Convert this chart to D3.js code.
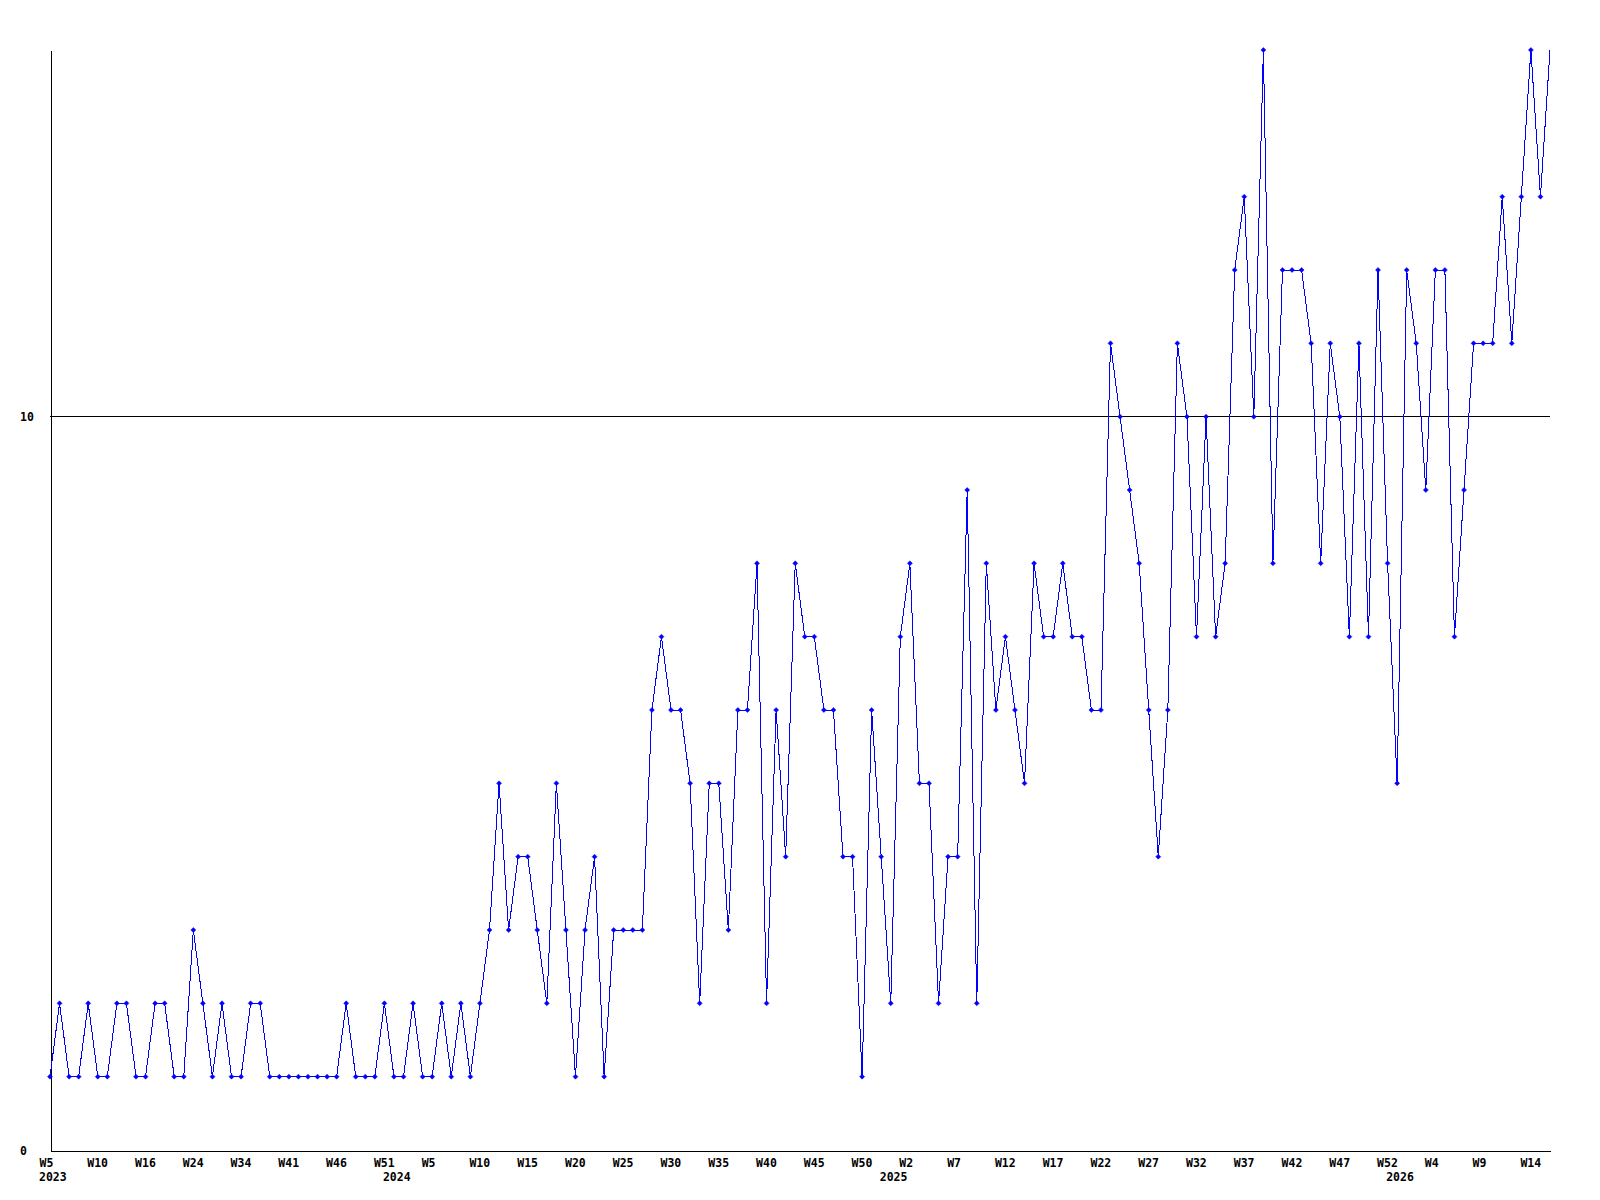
<!DOCTYPE html>
<html>
<head>
<meta charset="utf-8">
<script src="https://cdn.jsdelivr.net/npm/d3@7"></script>
<style>
  body { margin: 0; background: #fff; }
  svg { display: block; }
  text { font-family: "DejaVu Sans Mono", "Liberation Mono", monospace; font-weight: bold; font-size: 11.5px; fill: #000; }
</style>
</head>
<body>
<svg id="chart" width="1600" height="1200"></svg>
<script>
// ---- Categories (week numbers per year, as they appear in the data) ----
const weeks2023 = [5,6,7,8,9,10,11,12,13,14,16,18,19,21,22,24,26,28,30,32,34,35,37,38,40,41,42,43,44,45,46,47,48,49,50,51];
const weeks2024 = [1,2,3,4,5,6,7,8,9,10,11,12,13,14,15,16,17,18,19,20,21,22,23,24,25,26,27,28,29,30,31,32,33,34,35,36,37,38,39,40,41,42,43,44,45,46,47,48,49,50,51,52];
const weeks2025 = [0,1,2,3,4,5,6,7,8,9,10,11,12,13,14,15,16,17,18,19,20,21,22,23,24,25,26,27,28,29,30,31,32,33,34,35,36,37,38,39,40,41,42,43,44,45,46,47,48,49,50,51,52];
const weeks2026 = [0,1,2,3,4,5,6,7,8,9,10,11,12,13,14,15,16];
const yearLabels = ["2023", "2024", "2025", "2026"];

// ---- Series values (one per week) ----
const values = [
  1,2,1,1,2,1,1,2,2,1, 1,2,2,1,1,3,2,1,2,1,
  1,2,2,1,1,1,1,1,1,1, 1,2,1,1,1,2,1,1,2,1,
  1,2,1,2,1,2,3,5,3,4, 4,3,2,5,3,1,3,4,1,3,
  3,3,3,6,7,6,6,5,2,5, 5,3,6,6,8,2,6,4,8,7,
  7,6,6,4,4,1,6,4,2,7, 8,5,5,2,4,4,9,2,8,6,
  7,6,5,8,7,7,8,7,7,6, 6,11,10,9,8,6,4,6,11,10,
  7,10,7,8,12,13,10,15,8,12, 12,12,11,8,11,10,7,11,7,12,
  8,5,12,11,9,12,12,7,9,11, 11,11,13,11,13,15,13,15
];

// ---- Axis ticks ----
const yTickValues = [0, 10];
const xLabelEvery = 5;

// Build category table
const weekGroups = [weeks2023, weeks2024, weeks2025, weeks2026];
const points = [];
weekGroups.forEach((wk, gi) => {
  wk.forEach((w, j) => points.push({ week: "W" + w, year: yearLabels[gi], firstOfYear: j === 0 }));
});
const data = points.map((p, i) => ({ i, label: p.week, year: p.year, first: p.firstOfYear, value: values[i] }));

const svg = d3.select("#chart");
const x = d3.scalePoint().domain(d3.range(data.length)).range([50, 1550]);
const y = d3.scaleLinear().domain([0, 15]).range([1150, 50]);

// Grid line at 10
svg.append("g").selectAll("line").data(yTickValues.filter(v => v > 0)).join("line")
  .attr("x1", 50).attr("x2", 1550)
  .attr("y1", d => Math.floor(y(d)) + 0.5).attr("y2", d => Math.floor(y(d)) + 0.5)
  .attr("stroke", "#000").attr("stroke-width", 1).attr("shape-rendering", "crispEdges");

// Y axis
const yAxis = d3.axisLeft(y).tickValues(yTickValues).tickSize(0).tickSizeOuter(0).tickFormat(d3.format("d"));
const gy = svg.append("g").attr("transform", "translate(50.5,0)").call(yAxis);
gy.attr("font-family", null).attr("font-size", null);
gy.select(".domain").attr("stroke", "#000").attr("shape-rendering", "crispEdges");
gy.selectAll("text").attr("text-anchor", "start").attr("x", -30.5).attr("dy", null).attr("y", 4);

// X axis
const xAxis = d3.axisBottom(x)
  .tickValues(d3.range(0, data.length, xLabelEvery))
  .tickSize(0).tickSizeOuter(0)
  .tickFormat(i => data[i].label);
const gx = svg.append("g").attr("transform", "translate(0,1150.5)").call(xAxis);
gx.attr("font-family", null).attr("font-size", null);
gx.select(".domain").attr("stroke", "#000").attr("shape-rendering", "crispEdges");
gx.selectAll("text").attr("text-anchor", "start").attr("x", -11).attr("dy", null).attr("y", 16);

// Year labels
svg.append("g").selectAll("text").data(data.filter(d => d.first)).join("text")
  .attr("x", d => x(d.i) - 11).attr("y", 1181)
  .text(d => d.year);

// Data line
const line = d3.line().x(d => x(d.i)).y(d => y(d.value));
svg.append("path").datum(data)
  .attr("d", line)
  .attr("fill", "none").attr("stroke", "#0000ff").attr("stroke-width", 1)
  .attr("shape-rendering", "crispEdges");

// Markers (the final point sits on the plot edge and is not marked in the reference)
svg.append("g").selectAll("path").data(data.slice(0, -1)).join("path")
  .attr("d", d => {
    const cx = x(d.i), cy = y(d.value), r = 2.5;
    return `M${cx},${cy - r}L${cx + r},${cy}L${cx},${cy + r}L${cx - r},${cy}Z`;
  })
  .attr("fill", "#0000ff").attr("stroke", "#0000ff").attr("stroke-width", 0.5);
</script>
</body>
</html>
